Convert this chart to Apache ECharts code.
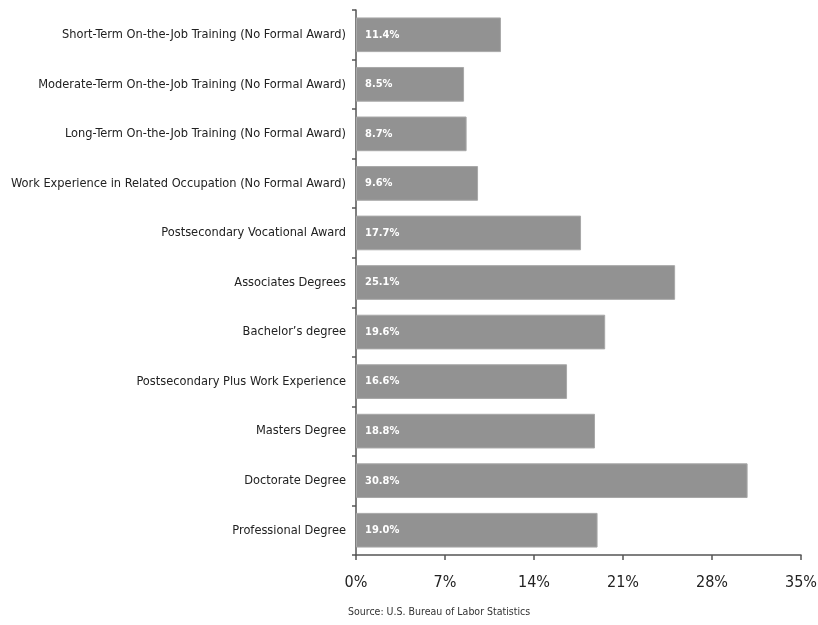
<!DOCTYPE html>
<html>
<head>
<meta charset="utf-8">
<script src="https://cdn.jsdelivr.net/npm/echarts@6/dist/echarts.min.js"></script>
<style>
  html, body { margin: 0; padding: 0; background: #fff; }
  #chart { width: 818px; height: 625px; }
</style>
</head>
<body>
<div id="chart"></div>
<script>
var categories = [
    'Short-Term On-the-Job Training (No Formal Award)',
    'Moderate-Term On-the-Job Training (No Formal Award)',
    'Long-Term On-the-Job Training (No Formal Award)',
    'Work Experience in Related Occupation (No Formal Award)',
    'Postsecondary Vocational Award',
    'Associates Degrees',
    'Bachelor\u2019s degree',
    'Postsecondary Plus Work Experience',
    'Masters Degree',
    'Doctorate Degree',
    'Professional Degree'
];
var values = [11.4, 8.5, 8.7, 9.6, 17.7, 25.1, 19.6, 16.6, 18.8, 30.8, 19.0];
var xTicks = [0, 7, 14, 21, 28, 35];
var sourceNote = 'Source: U.S. Bureau of Labor Statistics';

var font = '"DejaVu Sans Condensed", "Liberation Sans Narrow", sans-serif';

var chart = echarts.init(document.getElementById('chart'));
chart.setOption({
    animation: false,
    textStyle: { fontFamily: font },
    grid: { left: 356, right: 17, top: 10, bottom: 70, containLabel: false, outerBoundsMode: 'none' },
    xAxis: {
        type: 'value',
        min: xTicks[0],
        max: xTicks[xTicks.length - 1],
        interval: 7,
        splitLine: { show: false },
        axisLine: { show: true, lineStyle: { color: '#555', width: 1.5 } },
        axisTick: { show: true, length: 5, lineStyle: { color: '#555', width: 1.5 } },
        axisLabel: {
            margin: 20,
            fontSize: 16,
            color: '#222',
            fontFamily: font,
            formatter: function (v) { return v + '%'; }
        }
    },
    yAxis: {
        type: 'category',
        inverse: true,
        data: categories,
        axisLine: { show: true, lineStyle: { color: '#555', width: 1.5 } },
        axisTick: { show: true, length: 4, lineStyle: { color: '#555', width: 1.5 } },
        axisLabel: { margin: 10, fontSize: 12.7, color: '#222', fontFamily: font }
    },
    series: [{
        type: 'bar',
        data: values,
        barCategoryGap: '30%',
        itemStyle: { color: '#929292', borderColor: '#a8a8a8', borderWidth: 1 },
        label: {
            show: true,
            position: 'insideLeft',
            distance: 9,
            color: '#fff',
            fontWeight: 'bold',
            fontSize: 11,
            fontFamily: font,
            formatter: function (p) { return p.value.toFixed(1) + '%'; }
        }
    }],
    graphic: [{
        type: 'text',
        left: 348,
        top: 607,
        style: { text: sourceNote, fill: '#333', font: '10.5px ' + font }
    }]
});
</script>
</body>
</html>
